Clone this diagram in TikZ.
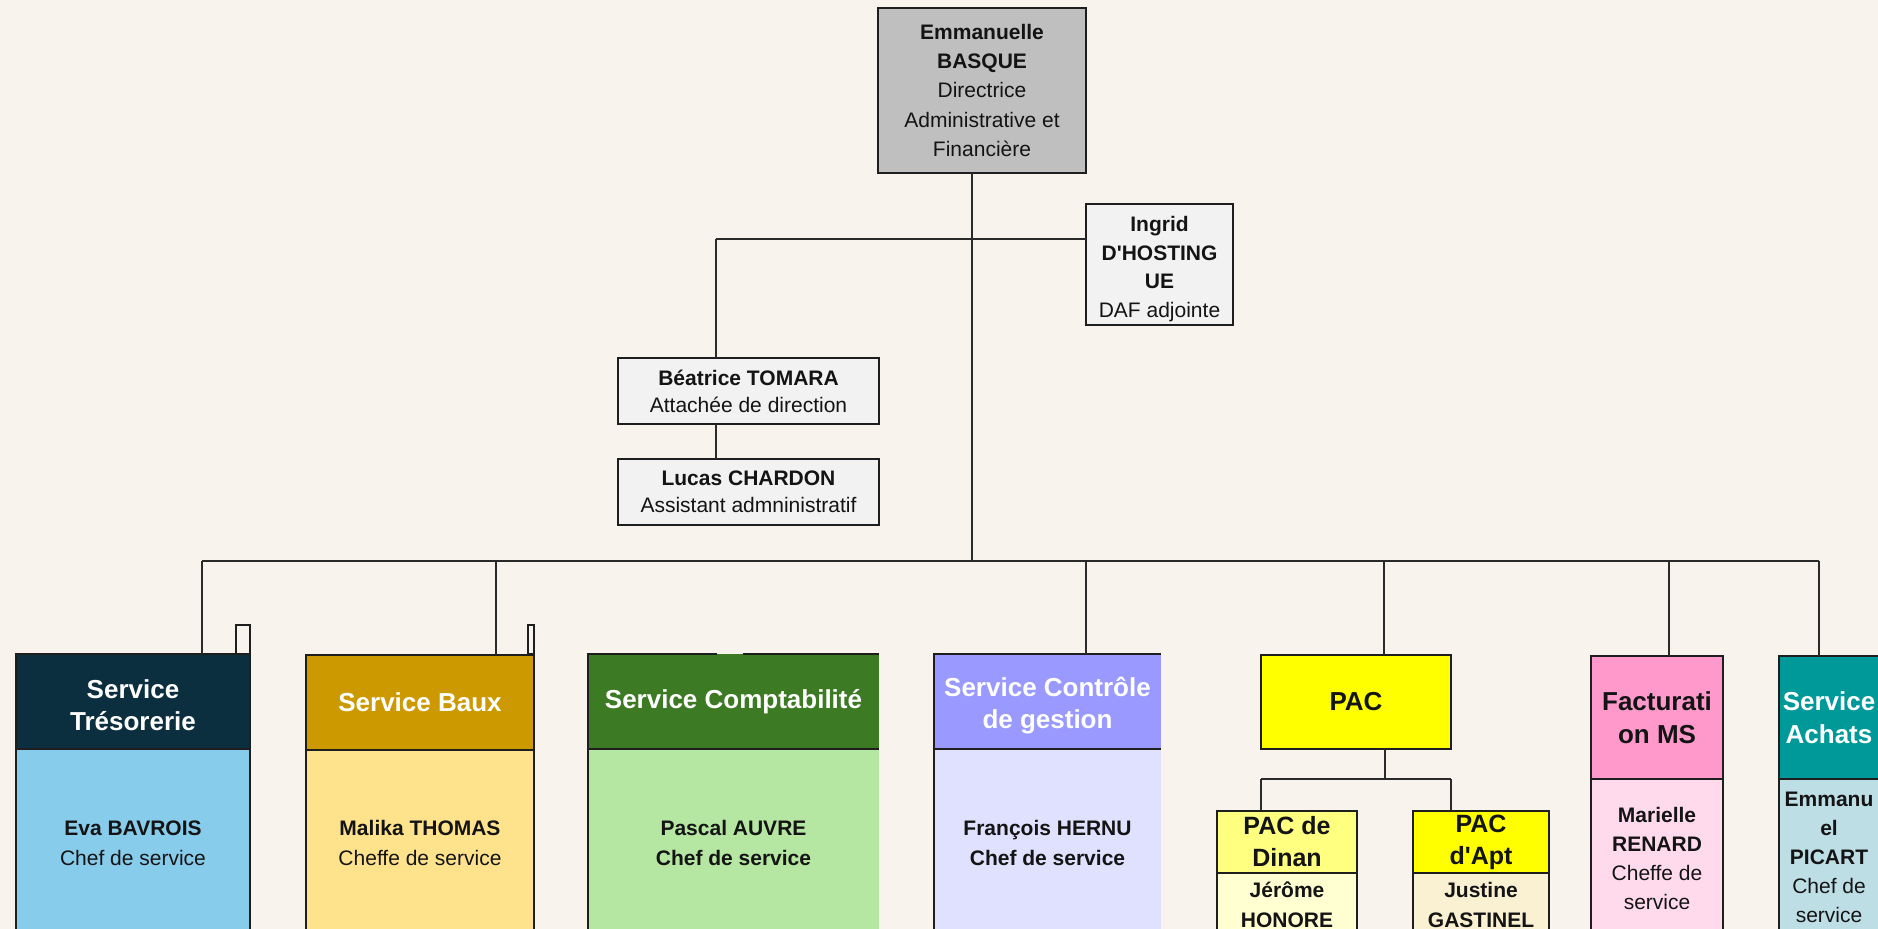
\documentclass[tikz,border=0pt]{standalone}
\usepackage{fontspec}
\setmainfont{Liberation Sans}[Ligatures=TeXOff]
\definecolor{bg}{HTML}{F8F4ED}
\definecolor{edge}{HTML}{1E1E1E}
\definecolor{wire}{HTML}{2A2A2A}
\definecolor{ink}{HTML}{141414}
\definecolor{grayA}{HTML}{BFBFBF}
\definecolor{grayB}{HTML}{F2F2F2}
\definecolor{treHead}{HTML}{0C2F3F}
\definecolor{treBody}{HTML}{87CCEB}
\definecolor{bauxHead}{HTML}{CC9900}
\definecolor{bauxBody}{HTML}{FFE28C}
\definecolor{compHead}{HTML}{3D7A24}
\definecolor{compBody}{HTML}{B5E6A2}
\definecolor{ctrlHead}{HTML}{9999FF}
\definecolor{ctrlBody}{HTML}{E0E0FF}
\definecolor{pacYel}{HTML}{FFFF00}
\definecolor{dinHead}{HTML}{FFFF80}
\definecolor{dinBody}{HTML}{FFFFD2}
\definecolor{aptBody}{HTML}{FAF0D2}
\definecolor{facHead}{HTML}{FF99CC}
\definecolor{facBody}{HTML}{FFDAEC}
\definecolor{achHead}{HTML}{009999}
\definecolor{achBody}{HTML}{BEDEE6}
\begin{document}
\begin{tikzpicture}[x=0.5pt,y=-0.5pt,
  box/.style={draw=edge, line width=1pt, inner sep=0pt, outer sep=0pt, align=center, text=ink},
  fillonly/.style={draw=none, inner sep=0pt, outer sep=0pt, align=center, text=ink},
  words/.style={inner sep=0pt, align=center, text=ink},
  conn/.style={draw=wire, line width=1pt},
  rim/.style={draw=edge, line width=1pt},
  txt/.style={font=\fontsize{10.5}{15}\selectfont},
  head/.style={font=\bfseries\fontsize{13}{16}\selectfont},
  headW/.style={head, text=white},
]
\path[use as bounding box] (0,0) rectangle (1878,929);
\clip (0,0) rectangle (1878,929);
\fill[bg] (0,0) rectangle (1878,929);

% --- direction ---
\node[box, fill=grayA, minimum width=104pt, minimum height=82.5pt,
      font=\fontsize{10.5}{14.6}\selectfont] (dir) at (982,90.5)
  {\textbf{Emmanuelle}\\\textbf{BASQUE}\\Directrice\\Administrative et\\Financière};
\node[box, fill=grayB, minimum width=73.5pt, minimum height=60.5pt] (adj) at (1159.5,264.5) {};
\node[words, font=\fontsize{10.5}{14.2}\selectfont] (adjT) at (1159.5,269)
  {\textbf{Ingrid}\\\textbf{D'HOSTING}\\\textbf{UE}\\DAF adjointe};
\node[box, fill=grayB, minimum width=130.5pt, minimum height=33pt,
      font=\fontsize{10.5}{13.5}\selectfont] (att) at (748.5,391)
  {\textbf{Béatrice TOMARA}\\Attachée de direction};
\node[box, fill=grayB, minimum width=130.5pt, minimum height=33pt,
      font=\fontsize{10.5}{13.5}\selectfont] (ass) at (748.5,492)
  {\textbf{Lucas CHARDON}\\Assistant admninistratif};

% --- upper connectors ---
\coordinate (trunk) at (972,561);
\coordinate (side) at (716,239);
\draw[conn] (trunk |- dir.south) -- (trunk);
\draw[conn] (side) -- (side -| adj.west);
\draw[conn] (side) -- (side |- att.north);
\draw[conn] (side |- att.south) -- (side |- ass.north);

% --- Service Trésorerie ---
\node[box, fill=treBody, minimum width=117pt, minimum height=94pt, txt] (treB) at (133,843)
  {\textbf{Eva BAVROIS}\\Chef de service};
\node[box, fill=treHead, minimum width=117pt, minimum height=47.5pt] (treH) at (133,701.5) {};
\node[words, headW] (treT) at (133,705) {Service\\Trésorerie};
\node[box, fill=bg, line width=0.8pt, minimum width=7pt, minimum height=14.5pt] (tabA) at (243,639.5) {};

% --- Service Baux ---
\node[box, fill=bauxBody, minimum width=114pt, minimum height=94pt, txt] (bauxB) at (420,843)
  {\textbf{Malika THOMAS}\\Cheffe de service};
\node[box, fill=bauxHead, minimum width=114pt, minimum height=47.5pt, headW] (bauxH) at (420,702.5)
  {Service Baux};
\node[box, fill=bg, line width=0.8pt, minimum width=3pt, minimum height=14.5pt] (tabB) at (531,639.5) {};

% --- Service Comptabilité ---
\node[fillonly, fill=compBody, minimum width=145.5pt, minimum height=94pt, txt] (compB) at (733.5,843)
  {\textbf{Pascal AUVRE}\\\textbf{Chef de service}};
\node[fillonly, fill=compHead, minimum width=145.5pt, minimum height=47.5pt, headW] (compH) at (733.5,701.5)
  {Service Comptabilité};
\draw[rim] (compB.south west) -- (compH.north west) -- (717,654);
\draw[rim] (743,654) -- (compH.north east);
\draw[rim] (compH.south west) -- (compH.south east);

% --- Service Contrôle de gestion ---
\node[fillonly, fill=ctrlBody, minimum width=113.5pt, minimum height=94pt, txt] (ctrlB) at (1047.5,843)
  {\textbf{François HERNU}\\\textbf{Chef de service}};
\node[fillonly, fill=ctrlHead, minimum width=113.5pt, minimum height=47.5pt] (ctrlH) at (1047.5,701.5) {};
\node[words, headW] (ctrlT) at (1047.5,705.5) {Service Contrôle\\de gestion};
\draw[rim] (ctrlB.south west) -- (ctrlH.north west) -- (ctrlH.north east);
\draw[rim] (ctrlH.south west) -- (ctrlH.south east);

% --- PAC ---
\node[box, fill=pacYel, minimum width=95pt, minimum height=47pt, head] (pac) at (1356,702) {PAC};
\node[box, fill=dinBody, minimum width=70pt, minimum height=32pt, txt] (dinB) at (1287,905)
  {\textbf{Jérôme}\\\textbf{HONORE}};
\node[box, fill=dinHead, minimum width=70pt, minimum height=31pt,
      font=\bfseries\fontsize{12.5}{16}\selectfont] (dinH) at (1287,842) {PAC de\\Dinan};
\node[box, fill=aptBody, minimum width=68pt, minimum height=32pt, txt] (aptB) at (1481,905)
  {\textbf{Justine}\\\textbf{GASTINEL}};
\node[box, fill=pacYel, minimum width=68pt, minimum height=31pt,
      font=\bfseries\fontsize{12.5}{16}\selectfont] (aptH) at (1481,842) {PAC\\d'Apt};

% --- Facturation MS ---
\node[box, fill=facBody, minimum width=66pt, minimum height=79pt,
      font=\fontsize{10.5}{14.5}\selectfont] (facB) at (1657,858)
  {\textbf{Marielle}\\\textbf{RENARD}\\Cheffe de\\service};
\node[box, fill=facHead, minimum width=66pt, minimum height=61.5pt,
      font=\bfseries\fontsize{13}{16.5}\selectfont] (facH) at (1657,717.5) {Facturati\\on MS};

% --- Service Achats ---
\node[box, fill=achBody, minimum width=50pt, minimum height=79pt,
      font=\fontsize{10.5}{14.5}\selectfont] (achB) at (1829,857)
  {\textbf{Emmanu}\\\textbf{el}\\\textbf{PICART}\\Chef de\\service};
\node[box, fill=achHead, minimum width=50pt, minimum height=61.5pt, text=white,
      font=\bfseries\fontsize{13}{16.5}\selectfont] (achH) at (1829,717.5) {Service\\Achats};

% --- service bus and drops ---
\coordinate (busL) at (202,561);
\coordinate (busR) at (1819,561);
\coordinate (dBaux) at (496,561);
\coordinate (dCtrl) at (1086,561);
\coordinate (dPac) at (1384,561);
\coordinate (dFac) at (1669,561);
\draw[conn] (busL) -- (busR);
\draw[conn] (busL) -- (busL |- treH.north);
\draw[conn] (dBaux) -- (dBaux |- bauxH.north);
\draw[conn] (dCtrl) -- (dCtrl |- ctrlH.north);
\draw[conn] (dPac) -- (dPac |- pac.north);
\draw[conn] (dFac) -- (dFac |- facH.north);
\draw[conn] (busR) -- (busR |- achH.north);

% --- PAC branches ---
\coordinate (pacJ) at (1385,779);
\coordinate (pacL) at (1261,779);
\coordinate (pacR) at (1451,779);
\draw[conn] (pacJ |- pac.south) -- (pacJ);
\draw[conn] (pacL) -- (pacR);
\draw[conn] (pacL) -- (pacL |- dinH.north);
\draw[conn] (pacR) -- (pacR |- aptH.north);
\end{tikzpicture}
\end{document}
